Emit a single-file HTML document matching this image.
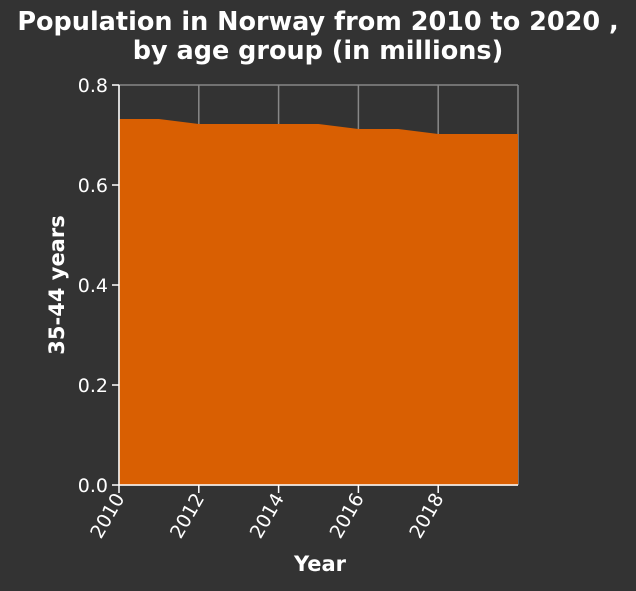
<!DOCTYPE html>
<html><head><meta charset="utf-8"><style>
body{margin:0;background:#333333;}
svg text{font-family:"DejaVu Sans","Liberation Sans",sans-serif;fill:#fff;}
</style></head><body>
<svg width="636" height="586">
<rect width="636" height="586" fill="#333333"/>
<text x="318" y="30" text-anchor="middle" font-size="25.5" font-weight="bold">Population in Norway from 2010 to 2020 ,</text>
<text x="318" y="59" text-anchor="middle" font-size="25.5" font-weight="bold">by age group (in millions)</text>
<g id="grid"></g>
<path id="area" fill="#d95f02"/>
<g id="axes"></g>
<text x="320" y="571" text-anchor="middle" font-size="21" font-weight="bold">Year</text>
<text transform="translate(64,285) rotate(-90)" text-anchor="middle" font-size="21" font-weight="bold">35-44 years</text>
</svg>
<script>
const years=[2010,2011,2012,2013,2014,2015,2016,2017,2018,2019,2020];
const values=[0.732,0.732,0.722,0.722,0.722,0.722,0.712,0.712,0.702,0.702,0.702];
const xTicks=[2010,2012,2014,2016,2018];
const yTicks=[0,0.2,0.4,0.6,0.8];
const X0=119,X1=518,Y0=485,Y1=85;
const x=v=>X0+(v-2010)/(2020-2010)*(X1-X0);
const y=v=>Y0-v/0.8*(Y0-Y1);
const NS="http://www.w3.org/2000/svg";
function mk(t,a,p){const e=document.createElementNS(NS,t);for(const k in a)e.setAttribute(k,a[k]);p.appendChild(e);return e;}
const grid=document.getElementById('grid'),axes=document.getElementById('axes');
xTicks.forEach(t=>{const l=mk('line',{x1:x(t),x2:x(t),y1:Y1,y2:Y0,stroke:'#888','stroke-width':1.5},grid);
});
yTicks.forEach(t=>{const l=mk('line',{x1:X0,x2:X1,y1:y(t),y2:y(t),stroke:'#888','stroke-width':1.5},grid);
});
mk('line',{x1:X1,x2:X1,y1:Y1,y2:Y0,stroke:'#888','stroke-width':1.5},grid);
let d=`M${x(years[0])},${y(0)}`;years.forEach((yr,i)=>d+=`L${x(yr)},${y(values[i])}`);d+=`L${x(years[years.length-1])},${y(0)}Z`;
document.getElementById('area').setAttribute('d',d);
mk('line',{x1:X0,x2:X0,y1:Y1,y2:Y0,stroke:'#fff','stroke-width':1.5},axes);
mk('line',{x1:X0,x2:X1,y1:Y0,y2:Y0,stroke:'#fff','stroke-width':1.5},axes);
yTicks.forEach(t=>{mk('line',{x1:X0-7,x2:X0,y1:y(t),y2:y(t),stroke:'#fff','stroke-width':1.5},axes);
const tx=mk('text',{x:X0-11,y:y(t)+7,'text-anchor':'end','font-size':19},axes);tx.textContent=t.toFixed(1);
});
xTicks.forEach(t=>{mk('line',{x1:x(t),x2:x(t),y1:Y0,y2:Y0+8,stroke:'#fff','stroke-width':1.5},axes);
const tx=mk('text',{x:x(t)+6,y:Y0+13,'text-anchor':'end','font-size':19,transform:`rotate(-60 ${x(t)+6} ${Y0+13})`},axes);tx.textContent=t;
});
</script>
</body></html>
